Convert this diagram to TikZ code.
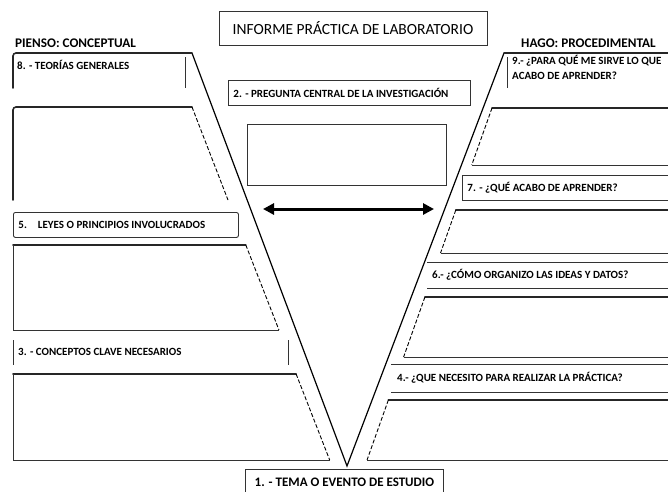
\documentclass[tikz,border=0pt]{standalone}
\usepackage{fontspec}
\setmainfont{Carlito}
\usepackage{tikz}
\usetikzlibrary{arrows.meta}

\begin{document}
\begin{tikzpicture}[x=1pt, y=-1pt,
    every node/.style={font=\bfseries\fontsize{11}{15.5}\selectfont, inner sep=0pt},
    frame/.style={draw=black!80, line width=0.9pt},
    rim/.style={draw=black!85, line width=1.6pt, line cap=round},
    vline/.style={draw=black, line width=1.2pt},
    dline/.style={draw=black, line width=0.9pt, dash pattern=on 4pt off 2pt},
    txtbox/.style={frame, anchor=north west, align=flush left, inner xsep=5pt, minimum height=25pt}]
  \useasboundingbox (0,0) rectangle (668,491);
  % title and headings
  \node[frame, minimum width=268pt, minimum height=34pt, font=\fontsize{15.5}{17}\selectfont] (title) at (353,28) {INFORME PRÁCTICA DE LABORATORIO};
  \node[anchor=west, font=\bfseries\fontsize{13.2}{15}\selectfont] (pienso) at (15,43) {PIENSO: CONCEPTUAL};
  \node[anchor=west, font=\bfseries\fontsize{13.2}{15}\selectfont] (hago) at (521,43) {HAGO: PROCEDIMENTAL};
  % the V
  \coordinate (lt) at (192,53);
  \coordinate (rt) at (504,53);
  \coordinate (vtx) at (347,466);
  \draw[vline] (lt) -- (vtx) -- (rt);
  % conceptual side
  \draw[rim, rounded corners=3pt] (13,88) -- (13,53) -- (lt);
  \draw[frame] (185,57) -- (185,88);
  \node[anchor=west] (teorias) at (17,65) {8. - TEORÍAS GENERALES};
  \draw[rim, rounded corners=3pt] (13,200) -- (13,107) -- (192,107);
  \draw[dline] (192,107) -- (228,200);
  \node[txtbox, rounded corners=2pt, text width=215pt] (leyes) at (13,212) {5.\quad LEYES O PRINCIPIOS INVOLUCRADOS};
  \foreach \yt/\yb in {245/330, 374/460} {
    \draw[rim] (13,\yt) -- ({192+0.39*(\yt-107)},\yt);
    \draw[dline] ({192+0.39*(\yt-107)},\yt) -- ({192+0.39*(\yb-107)},\yb);
    \draw[frame] ({192+0.39*(\yb-107)},\yb) -- (13,\yb) -- (13,\yt);
  }
  \draw[frame] (13,340) -- (13,365) (288,340) -- (288,365);
  \node[anchor=west] (conceptos) at (18,352) {3. - CONCEPTOS CLAVE NECESARIOS};
  % procedural side
  \draw[rim, rounded corners=3pt] (672,53) -- (rt);
  \draw[frame] (507,57) -- (507,88);
  \node[anchor=north west, align=left] (sirve) at (512,55) {9.- ¿PARA QUÉ ME SIRVE LO QUE\\ACABO DE APRENDER?};
  \node[txtbox, text width=200pt] (aprendo) at (462,175) {7. - ¿QUÉ ACABO DE APRENDER?};
  \foreach \yt/\yb in {108/165, 210/253, 297/357, 400/460} {
    \draw[rim] (672,\yt) -- ({492-0.355*(\yt-108)},\yt);
    \draw[dline] ({492-0.355*(\yt-108)},\yt) -- ({492-0.355*(\yb-108)},\yb);
    \draw[frame] ({492-0.355*(\yb-108)},\yb) -- (672,\yb);
  }
  \draw[frame] (427,262) -- (672,262) (427,288) -- (672,288);
  \node[anchor=west] (organizo) at (432,275) {6.- ¿CÓMO ORGANIZO LAS IDEAS Y DATOS?};
  \draw[frame] (391,364) -- (672,364) (391,392) -- (672,392);
  \node[anchor=west] (necesito) at (397,378) {4.- ¿QUE NECESITO PARA REALIZAR LA PRÁCTICA?};
  % centre
  \node[txtbox, text width=232pt] (pregunta) at (228,80) {2. - PREGUNTA CENTRAL DE LA INVESTIGACIÓN};
  \node[frame, anchor=north west, minimum width=199pt, minimum height=61pt] (blank) at (247,124) {};
  \coordinate (al) at (263,209);
  \coordinate (ar) at (434,209);
  \draw[line width=3pt, {Triangle[length=11pt,width=11pt]}-{Triangle[length=11pt,width=11pt]}] (al) -- (ar);
  \node[frame, anchor=north west, minimum width=198pt, minimum height=26pt, font=\bfseries\fontsize{13}{15}\selectfont] (tema) at (245,469) {1. - TEMA O EVENTO DE ESTUDIO};
\end{tikzpicture}
\end{document}
